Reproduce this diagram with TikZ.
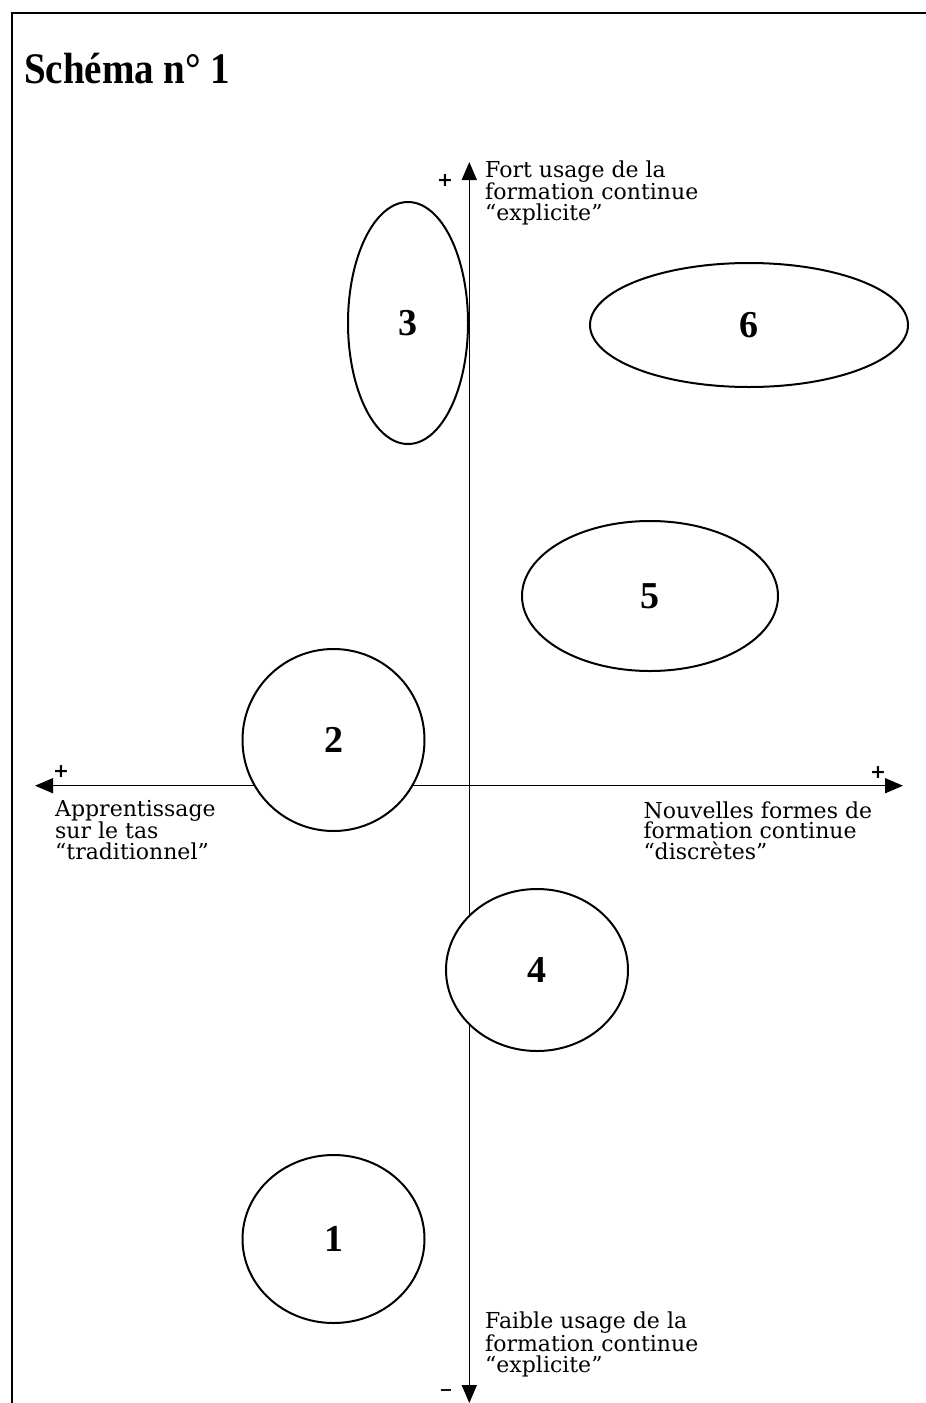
\documentclass[tikz,border=0pt]{standalone}
\usepackage{fontspec}
\usepackage{graphicx}
\setmainfont{DejaVu Serif}
\newfontfamily\ttlfont{Liberation Serif}
\newfontfamily\sgnfont{DejaVu Sans}
\usetikzlibrary{shapes.geometric,arrows.meta}
\begin{document}
\begin{tikzpicture}[x=1pt,y=-1pt,
  frameline/.style={line width=2pt},
  axisline/.style={line width=1.5pt,{Triangle[length=18pt,width=15pt]}-{Triangle[length=18pt,width=15pt]}},
  blob/.style={ellipse,draw,line width=2pt,fill=white,inner sep=0pt,
    font=\ttlfont\bfseries\fontsize{38}{38}\selectfont},
  lbl/.style={anchor=base west,align=left,inner sep=0pt,
    font=\fontsize{22}{20.5}\selectfont},
  sgn/.style={inner sep=0pt,font=\sgnfont\bfseries\fontsize{19}{19}\selectfont}]
\useasboundingbox (0,0) rectangle (926,1403);
% frame
\coordinate (fr) at (926,12.7);
\coordinate (fc) at (12,12.7);
\coordinate (fb) at (12,1403);
\draw[frameline] (fr) -- (fc) -- (fb);
% title
\node[anchor=base west,inner sep=0pt,font=\ttlfont\bfseries\fontsize{39}{39}\selectfont] (title) at (24,83) {\scalebox{1}[1.12]{Schéma n° 1}};
% axes
\coordinate (ytop) at (469.3,162);
\coordinate (ybot) at (469.3,1403);
\coordinate (xl) at (35,785.7);
\coordinate (xr) at (903,785.7);
\draw[axisline] (ybot) -- (ytop);
\draw[axisline] (xl) -- (xr);
% ellipses
\node[blob,minimum width=120pt,minimum height=242pt] (e3) at (408,323) {3};
\node[blob,minimum width=318pt,minimum height=124pt] (e6) at (749,325) {6};
\node[blob,minimum width=256pt,minimum height=150pt] (e5) at (650,596) {5};
\node[blob,minimum width=182pt,minimum height=182pt] (e2) at (333.5,740) {2};
\node[blob,minimum width=182pt,minimum height=162pt] (e4) at (537,970) {4};
\node[blob,minimum width=182pt,minimum height=168pt] (e1) at (333.5,1239) {1};
% signs
\node[sgn] (ptop) at (445,181) {+};
\node[sgn,font=\sgnfont\bfseries\fontsize{16}{16}\selectfont] (mbot) at (446,1392.7) {−};
\node[sgn] (pleft) at (61,772) {+};
\node[sgn] (pright) at (878,773) {+};
% labels (anchored at the baseline of the last line)
\node[lbl] (ltop) at (485,220.3) {Fort usage de la\\formation continue\\“explicite”};
\node[lbl] (lleft) at (55,859.3) {Apprentissage\\sur le tas\\“traditionnel”};
\node[lbl] (lright) at (643.3,859.3) {Nouvelles formes de\\formation continue\\“discrètes”};
\node[lbl] (lbot) at (485,1372) {Faible usage de la\\formation continue\\“explicite”};
\end{tikzpicture}
\end{document}
